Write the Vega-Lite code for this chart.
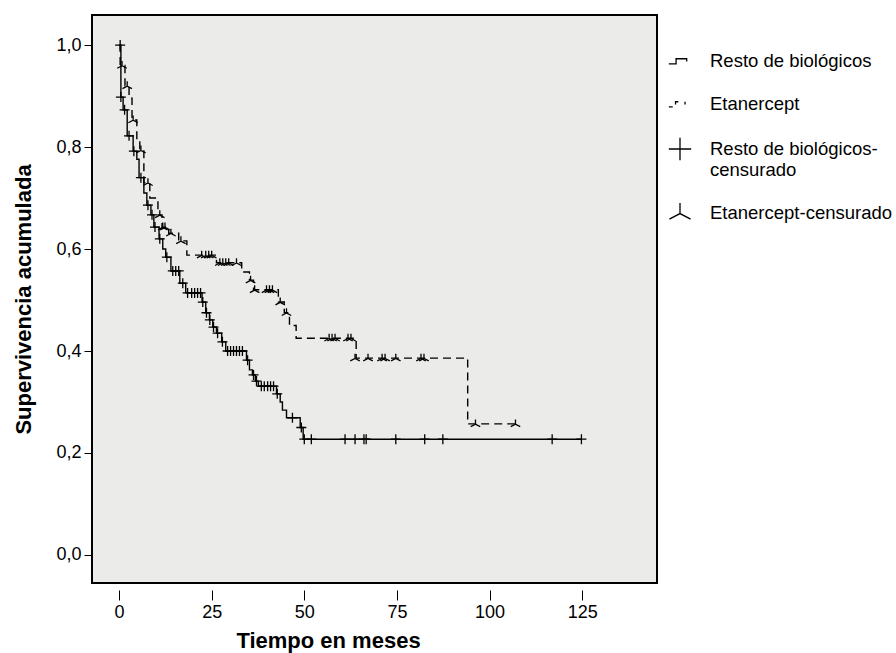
{
  "$schema": "https://vega.github.io/schema/vega-lite/v6.json",
  "autosize": "none",
  "width": 565,
  "height": 568,
  "padding": {"left": 92, "top": 15, "right": 239, "bottom": 70},
  "background": "white",
  "config": {
    "font": "Liberation Sans",
    "view": {"fill": "#ebebe9", "stroke": "black", "strokeWidth": 2},
    "axis": {"grid": false, "domain": false, "tickColor": "black", "labelColor": "black", "titleColor": "black", "labelFont": "Liberation Sans", "titleFont": "Liberation Sans", "labelFontSize": 18, "titleFontSize": 22, "titleFontWeight": "bold"}
  },
  "datasets": {
    "pasos": [
      {"grupo": "Resto de biológicos", "t": 0, "s": 1.0},
      {"grupo": "Resto de biológicos", "t": 0.5, "s": 0.898},
      {"grupo": "Resto de biológicos", "t": 1.1, "s": 0.873},
      {"grupo": "Resto de biológicos", "t": 2.2, "s": 0.822},
      {"grupo": "Resto de biológicos", "t": 3.8, "s": 0.792},
      {"grupo": "Resto de biológicos", "t": 4.8, "s": 0.776},
      {"grupo": "Resto de biológicos", "t": 5.4, "s": 0.74},
      {"grupo": "Resto de biológicos", "t": 6.7, "s": 0.71},
      {"grupo": "Resto de biológicos", "t": 7.5, "s": 0.686},
      {"grupo": "Resto de biológicos", "t": 8.6, "s": 0.667},
      {"grupo": "Resto de biológicos", "t": 9.4, "s": 0.643},
      {"grupo": "Resto de biológicos", "t": 10.8, "s": 0.62},
      {"grupo": "Resto de biológicos", "t": 11.8, "s": 0.6},
      {"grupo": "Resto de biológicos", "t": 12.6, "s": 0.584},
      {"grupo": "Resto de biológicos", "t": 14.0, "s": 0.557},
      {"grupo": "Resto de biológicos", "t": 16.4, "s": 0.533},
      {"grupo": "Resto de biológicos", "t": 18.0, "s": 0.514},
      {"grupo": "Resto de biológicos", "t": 22.4, "s": 0.496},
      {"grupo": "Resto de biológicos", "t": 23.4, "s": 0.475},
      {"grupo": "Resto de biológicos", "t": 24.4, "s": 0.461},
      {"grupo": "Resto de biológicos", "t": 25.3, "s": 0.447},
      {"grupo": "Resto de biológicos", "t": 26.3, "s": 0.435},
      {"grupo": "Resto de biológicos", "t": 27.7, "s": 0.418},
      {"grupo": "Resto de biológicos", "t": 28.8, "s": 0.4},
      {"grupo": "Resto de biológicos", "t": 34.4, "s": 0.382},
      {"grupo": "Resto de biológicos", "t": 35.2, "s": 0.363},
      {"grupo": "Resto de biológicos", "t": 36.0, "s": 0.353},
      {"grupo": "Resto de biológicos", "t": 36.8, "s": 0.341},
      {"grupo": "Resto de biológicos", "t": 37.6, "s": 0.331},
      {"grupo": "Resto de biológicos", "t": 42.5, "s": 0.316},
      {"grupo": "Resto de biológicos", "t": 43.5, "s": 0.3},
      {"grupo": "Resto de biológicos", "t": 44.1, "s": 0.284},
      {"grupo": "Resto de biológicos", "t": 45.2, "s": 0.269},
      {"grupo": "Resto de biológicos", "t": 48.9, "s": 0.25},
      {"grupo": "Resto de biológicos", "t": 49.7, "s": 0.227},
      {"grupo": "Resto de biológicos", "t": 124.8, "s": 0.227},
      {"grupo": "Etanercept", "t": 0, "s": 1.0},
      {"grupo": "Etanercept", "t": 0.3, "s": 0.96},
      {"grupo": "Etanercept", "t": 1.6, "s": 0.92},
      {"grupo": "Etanercept", "t": 2.7, "s": 0.896},
      {"grupo": "Etanercept", "t": 3.5, "s": 0.853},
      {"grupo": "Etanercept", "t": 4.8, "s": 0.81},
      {"grupo": "Etanercept", "t": 5.6, "s": 0.794},
      {"grupo": "Etanercept", "t": 6.7, "s": 0.73},
      {"grupo": "Etanercept", "t": 8.3, "s": 0.7},
      {"grupo": "Etanercept", "t": 10.5, "s": 0.667},
      {"grupo": "Etanercept", "t": 11.6, "s": 0.643},
      {"grupo": "Etanercept", "t": 13.4, "s": 0.631},
      {"grupo": "Etanercept", "t": 16.1, "s": 0.616},
      {"grupo": "Etanercept", "t": 18.3, "s": 0.588},
      {"grupo": "Etanercept", "t": 26.3, "s": 0.573},
      {"grupo": "Etanercept", "t": 33.1, "s": 0.555},
      {"grupo": "Etanercept", "t": 35.2, "s": 0.539},
      {"grupo": "Etanercept", "t": 36.3, "s": 0.52},
      {"grupo": "Etanercept", "t": 43.0, "s": 0.496},
      {"grupo": "Etanercept", "t": 44.6, "s": 0.475},
      {"grupo": "Etanercept", "t": 46.0, "s": 0.45},
      {"grupo": "Etanercept", "t": 47.8, "s": 0.425},
      {"grupo": "Etanercept", "t": 64.0, "s": 0.386},
      {"grupo": "Etanercept", "t": 94.1, "s": 0.257},
      {"grupo": "Etanercept", "t": 107.0, "s": 0.257}
    ],
    "censuras": [
      {"leyenda": "Resto de biológicos-censurado", "t": 0.3, "s": 1.0},
      {"leyenda": "Resto de biológicos-censurado", "t": 0.5, "s": 0.898},
      {"leyenda": "Resto de biológicos-censurado", "t": 1.5, "s": 0.873},
      {"leyenda": "Resto de biológicos-censurado", "t": 2.7, "s": 0.822},
      {"leyenda": "Resto de biológicos-censurado", "t": 4.0, "s": 0.792},
      {"leyenda": "Resto de biológicos-censurado", "t": 5.9, "s": 0.74},
      {"leyenda": "Resto de biológicos-censurado", "t": 7.8, "s": 0.686},
      {"leyenda": "Resto de biológicos-censurado", "t": 8.9, "s": 0.667},
      {"leyenda": "Resto de biológicos-censurado", "t": 9.7, "s": 0.643},
      {"leyenda": "Resto de biológicos-censurado", "t": 11.0, "s": 0.62},
      {"leyenda": "Resto de biológicos-censurado", "t": 12.9, "s": 0.584},
      {"leyenda": "Resto de biológicos-censurado", "t": 14.5, "s": 0.557},
      {"leyenda": "Resto de biológicos-censurado", "t": 15.3, "s": 0.557},
      {"leyenda": "Resto de biológicos-censurado", "t": 16.1, "s": 0.557},
      {"leyenda": "Resto de biológicos-censurado", "t": 17.2, "s": 0.533},
      {"leyenda": "Resto de biológicos-censurado", "t": 18.5, "s": 0.514},
      {"leyenda": "Resto de biológicos-censurado", "t": 19.6, "s": 0.514},
      {"leyenda": "Resto de biológicos-censurado", "t": 20.4, "s": 0.514},
      {"leyenda": "Resto de biológicos-censurado", "t": 21.2, "s": 0.514},
      {"leyenda": "Resto de biológicos-censurado", "t": 22.0, "s": 0.514},
      {"leyenda": "Resto de biológicos-censurado", "t": 22.6, "s": 0.496},
      {"leyenda": "Resto de biológicos-censurado", "t": 23.6, "s": 0.475},
      {"leyenda": "Resto de biológicos-censurado", "t": 24.5, "s": 0.461},
      {"leyenda": "Resto de biológicos-censurado", "t": 25.5, "s": 0.447},
      {"leyenda": "Resto de biológicos-censurado", "t": 26.6, "s": 0.435},
      {"leyenda": "Resto de biológicos-censurado", "t": 27.9, "s": 0.418},
      {"leyenda": "Resto de biológicos-censurado", "t": 29.3, "s": 0.4},
      {"leyenda": "Resto de biológicos-censurado", "t": 30.1, "s": 0.4},
      {"leyenda": "Resto de biológicos-censurado", "t": 30.9, "s": 0.4},
      {"leyenda": "Resto de biológicos-censurado", "t": 31.7, "s": 0.4},
      {"leyenda": "Resto de biológicos-censurado", "t": 32.5, "s": 0.4},
      {"leyenda": "Resto de biológicos-censurado", "t": 33.3, "s": 0.4},
      {"leyenda": "Resto de biológicos-censurado", "t": 34.7, "s": 0.382},
      {"leyenda": "Resto de biológicos-censurado", "t": 36.3, "s": 0.353},
      {"leyenda": "Resto de biológicos-censurado", "t": 37.1, "s": 0.341},
      {"leyenda": "Resto de biológicos-censurado", "t": 38.4, "s": 0.331},
      {"leyenda": "Resto de biológicos-censurado", "t": 39.2, "s": 0.331},
      {"leyenda": "Resto de biológicos-censurado", "t": 40.1, "s": 0.331},
      {"leyenda": "Resto de biológicos-censurado", "t": 40.9, "s": 0.331},
      {"leyenda": "Resto de biológicos-censurado", "t": 41.7, "s": 0.331},
      {"leyenda": "Resto de biológicos-censurado", "t": 42.7, "s": 0.316},
      {"leyenda": "Resto de biológicos-censurado", "t": 46.8, "s": 0.269},
      {"leyenda": "Resto de biológicos-censurado", "t": 49.2, "s": 0.25},
      {"leyenda": "Resto de biológicos-censurado", "t": 50.0, "s": 0.227},
      {"leyenda": "Resto de biológicos-censurado", "t": 51.9, "s": 0.227},
      {"leyenda": "Resto de biológicos-censurado", "t": 61.0, "s": 0.227},
      {"leyenda": "Resto de biológicos-censurado", "t": 63.7, "s": 0.227},
      {"leyenda": "Resto de biológicos-censurado", "t": 66.1, "s": 0.227},
      {"leyenda": "Resto de biológicos-censurado", "t": 66.7, "s": 0.227},
      {"leyenda": "Resto de biológicos-censurado", "t": 74.7, "s": 0.227},
      {"leyenda": "Resto de biológicos-censurado", "t": 82.5, "s": 0.227},
      {"leyenda": "Resto de biológicos-censurado", "t": 87.4, "s": 0.227},
      {"leyenda": "Resto de biológicos-censurado", "t": 116.9, "s": 0.227},
      {"leyenda": "Resto de biológicos-censurado", "t": 124.8, "s": 0.227},
      {"leyenda": "Etanercept-censurado", "t": 0.8, "s": 0.96},
      {"leyenda": "Etanercept-censurado", "t": 2.2, "s": 0.92},
      {"leyenda": "Etanercept-censurado", "t": 3.8, "s": 0.853},
      {"leyenda": "Etanercept-censurado", "t": 5.9, "s": 0.794},
      {"leyenda": "Etanercept-censurado", "t": 7.8, "s": 0.73},
      {"leyenda": "Etanercept-censurado", "t": 11.0, "s": 0.667},
      {"leyenda": "Etanercept-censurado", "t": 11.8, "s": 0.643},
      {"leyenda": "Etanercept-censurado", "t": 12.4, "s": 0.643},
      {"leyenda": "Etanercept-censurado", "t": 14.0, "s": 0.631},
      {"leyenda": "Etanercept-censurado", "t": 16.7, "s": 0.616},
      {"leyenda": "Etanercept-censurado", "t": 22.3, "s": 0.588},
      {"leyenda": "Etanercept-censurado", "t": 23.4, "s": 0.588},
      {"leyenda": "Etanercept-censurado", "t": 24.2, "s": 0.588},
      {"leyenda": "Etanercept-censurado", "t": 25.0, "s": 0.588},
      {"leyenda": "Etanercept-censurado", "t": 27.2, "s": 0.573},
      {"leyenda": "Etanercept-censurado", "t": 28.0, "s": 0.573},
      {"leyenda": "Etanercept-censurado", "t": 28.8, "s": 0.573},
      {"leyenda": "Etanercept-censurado", "t": 29.6, "s": 0.573},
      {"leyenda": "Etanercept-censurado", "t": 31.7, "s": 0.573},
      {"leyenda": "Etanercept-censurado", "t": 35.5, "s": 0.539},
      {"leyenda": "Etanercept-censurado", "t": 36.6, "s": 0.52},
      {"leyenda": "Etanercept-censurado", "t": 39.8, "s": 0.52},
      {"leyenda": "Etanercept-censurado", "t": 40.6, "s": 0.52},
      {"leyenda": "Etanercept-censurado", "t": 41.4, "s": 0.52},
      {"leyenda": "Etanercept-censurado", "t": 43.5, "s": 0.496},
      {"leyenda": "Etanercept-censurado", "t": 45.2, "s": 0.475},
      {"leyenda": "Etanercept-censurado", "t": 56.7, "s": 0.425},
      {"leyenda": "Etanercept-censurado", "t": 57.5, "s": 0.425},
      {"leyenda": "Etanercept-censurado", "t": 58.3, "s": 0.425},
      {"leyenda": "Etanercept-censurado", "t": 61.8, "s": 0.425},
      {"leyenda": "Etanercept-censurado", "t": 62.6, "s": 0.425},
      {"leyenda": "Etanercept-censurado", "t": 63.7, "s": 0.386},
      {"leyenda": "Etanercept-censurado", "t": 67.2, "s": 0.386},
      {"leyenda": "Etanercept-censurado", "t": 71.0, "s": 0.386},
      {"leyenda": "Etanercept-censurado", "t": 71.8, "s": 0.386},
      {"leyenda": "Etanercept-censurado", "t": 74.7, "s": 0.386},
      {"leyenda": "Etanercept-censurado", "t": 81.5, "s": 0.386},
      {"leyenda": "Etanercept-censurado", "t": 82.3, "s": 0.386},
      {"leyenda": "Etanercept-censurado", "t": 96.2, "s": 0.257},
      {"leyenda": "Etanercept-censurado", "t": 107.0, "s": 0.257}
    ]
  },
  "encoding": {
    "x": {"field": "t", "type": "quantitative", "scale": {"domain": [-7.3, 145.2], "nice": false, "zero": false},
      "axis": {"title": "Tiempo en meses", "values": [0, 25, 50, 75, 100, 125], "offset": 7, "tickSize": 10, "labelPadding": 3, "titleX": 236, "titleAnchor": "middle", "titlePadding": 9}},
    "y": {"field": "s", "type": "quantitative", "scale": {"domain": [-0.055, 1.059], "nice": false, "zero": false},
      "axis": {"title": "Supervivencia acumulada", "values": [0, 0.2, 0.4, 0.6, 0.8, 1.0], "tickSize": 8, "labelPadding": 3, "labelExpr": "replace(format(datum.value, '.1f'), '.', ',')", "titlePadding": 20}}
  },
  "layer": [
    {
      "data": {"name": "pasos"},
      "mark": {"type": "line", "interpolate": "step-after", "color": "black", "strokeWidth": 1.4},
      "encoding": {
        "strokeDash": {"field": "grupo", "type": "nominal", "scale": {"domain": ["Resto de biológicos", "Etanercept"], "range": [[1, 0], [8, 5]]}, "legend": null}
      }
    },
    {
      "data": {"name": "censuras"},
      "mark": {"type": "point", "filled": false, "color": "black", "strokeWidth": 1.3, "size": 100, "opacity": 1},
      "encoding": {
        "shape": {"field": "leyenda", "type": "nominal",
          "scale": {"domain": ["Resto de biológicos", "Etanercept", "Resto de biológicos-censurado", "Etanercept-censurado"],
            "range": ["M-1,0.25H-0.35V-0.2H0.6V0.05", "M-1,0.25H-0.65M-0.4,0.05V-0.2H-0.15M0.45,-0.2V0.05", "M-1,0H1M0,-1V1", "M0,-0.9V0.05M-0.95,0.55L0,0.05L0.95,0.55"]},
          "legend": {"title": null, "orient": "none", "legendX": 576, "legendY": 34, "symbolSize": 500, "symbolStrokeColor": "black", "symbolFillColor": "transparent", "symbolStrokeWidth": 1.3, "symbolOpacity": 1, "labelFontSize": 18.5, "labelFont": "Liberation Sans", "labelColor": "black", "labelOffset": 18, "rowPadding": 21, "labelLimit": 300,
            "labelExpr": "datum.label == 'Resto de biológicos-censurado' ? ['Resto de biológicos-', 'censurado'] : datum.label"}
        }
      }
    }
  ]
}
